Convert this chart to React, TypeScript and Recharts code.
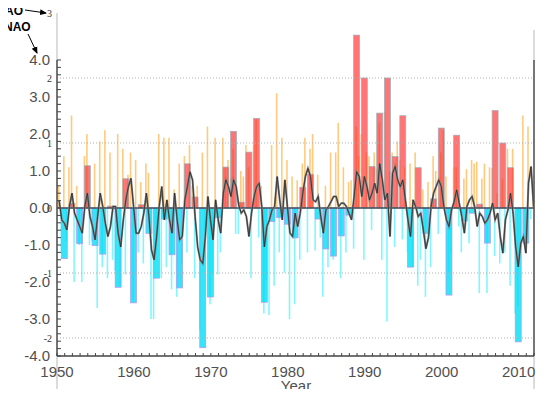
import React from "react";
import { ComposedChart, Bar, Line, XAxis, YAxis, ReferenceLine, Cell } from "recharts";

// Winter AO (wide bars, small AO scale) and monthly NAO (thin bars, big NAO scale),
// plus a smoothed NAO curve.

const years = Array.from({ length: 63 }, (_, i) => 1950 + i);

// winter AO index, one per year (null = no bar)
const aoWinter = [
  null, -0.78, 0.07, -0.55, 0.65, -0.58, -0.71, 0.03, -1.22, 0.45,
  -1.46, 0.05, -0.39, -1.08, -0.17, -0.72, -1.23, 0.68, 0.17, -2.15,
  -1.37, -0.15, 0.63, 1.18, 0.09, 0.86, 1.38, -1.45, -0.21, -0.15,
  -0.25, -0.46, 0.32, 0.52, -0.17, -0.63, -0.74, -0.43, -0.11, 2.66,
  2.0, 0.64, 1.46, 2.0, 0.79, 1.42, -0.91, 0.62, -0.39, 0.14,
  1.23, -1.34, 1.12, -0.2, -0.08, 0.06, -0.54, 1.5, 1.0, 0.62,
  -2.06, -0.54, null,
];

// monthly NAO, three winter months per year
const naoMonths: (number | null)[][] = [
  [null, null, 0.6], [-1.2, 1.4, -0.9], [1.1, 2.5, -2.0], [0.6, -1.0, -2.0], [1.4, 2.0, -1.0],
  [-0.9, 1.2, -2.7], [1.8, -1.6, 2.1], [-1.9, 1.5, -1.4], [-1.7, 2.0, -2.1], [1.6, -1.8, 0.9],
  [1.5, -2.5, 1.3], [-1.2, 0.7, -1.5], [1.2, 0.95, -3.0], [-3.0, -1.2, 2.0], [-1.9, 1.9, -1.6],
  [1.9, -2.2, 0.5], [-2.4, 1.2, -1.5], [1.4, -1.2, 1.7], [0.6, -1.9, 0.6], [-3.3, 1.5, -1.4],
  [2.2, -2.6, -1.8], [1.9, -1.8, -1.2], [1.9, 1.1, 1.3], [0.8, 1.6, -0.7], [-0.7, 1.0, 0.85],
  [1.7, 1.1, -1.9], [1.7, 2.4, -0.8], [0.6, -2.85, -1.95], [-2.9, 1.7, -2.1], [3.1, -1.2, 1.9],
  [-1.75, 1.3, -3.0], [0.85, -2.6, 0.75], [-1.4, 1.2, 1.9], [-1.2, 1.6, 2.0], [-1.15, 0.9, -0.8],
  [-2.4, 0.6, -1.6], [1.5, -1.4, 1.5], [2.3, -1.9, 1.1], [-1.2, 0.7, 0.75], [-1.1, 2.2, 1.4],
  [2.0, -1.4, 1.5], [1.4, -0.6, 1.5], [1.07, 2.3, -1.4], [2.6, -3.07, 1.0], [1.5, -1.05, 1.8],
  [1.3, -0.85, 1.1], [-1.2, 1.2, -1.6], [1.5, -2.1, -1.4], [0.5, -2.4, 0.7], [-1.6, 1.4, 1.0],
  [-0.7, 1.5, 2.1], [0.85, -1.75, -1.2], [1.1, 1.1, -0.5], [-1.2, 0.8, 1.05], [-0.95, 1.3, 1.2],
  [1.25, -2.3, 0.8], [1.2, -2.3, 1.1], [1.08, -1.3, 0.4], [-1.5, 0.78, -1.2], [1.6, -2.1, 1.6],
  [-2.85, -2.65, -1.0], [2.5, -1.2, 2.2], [-0.3, 0.3, null],
];

// smoothed NAO curve, same three points per year
const naoSmooth: (number | null)[][] = [
  [null, null, 0.2], [-0.32, -0.41, -0.59], [0.04, 0.4, -0.14], [-0.32, -0.5, -0.68], [0.04, 0.4, -0.23],
  [-0.5, -0.86, -0.23], [0.4, 0.04, -0.41], [-0.77, -0.5, 0.04], [0.04, -0.68, -1.05], [-0.32, 0.22, 0.58],
  [0.8, 0.04, -0.68], [-0.68, -0.5, -0.14], [0.4, -0.23, -1.13], [-1.4, -0.77, 0.04], [0.58, -0.32, 0.22],
  [-0.32, -0.68, 0.4], [-0.32, -0.86, -0.77], [0.22, 0.58, 0.98], [0.76, -0.23, -1.05], [-1.4, -1.5, -0.77],
  [0.31, -0.32, -0.86], [0.22, -0.32, -0.68], [0.4, 0.76, 0.58], [0.31, 0.76, 0.58], [0.08, -0.14, -0.05],
  [-0.23, -0.77, -0.14], [0.31, 0.58, 0.67], [0.04, -1.05, -0.5], [-0.32, -0.05, 0.04], [0.85, 0.22, -0.32],
  [0.76, 0.04, -0.68], [-0.77, -0.14, -0.5], [-0.14, 0.4, 0.85], [1.07, 0.85, 0.22], [0.17, 0.31, -0.23],
  [-0.68, -0.05, 0.04], [0.17, 0.31, 0.31], [0.04, 0.13, 0.13], [0.04, -0.14, -0.32], [0.31, 0.98, 0.85],
  [0.31, 0.85, 0.58], [0.22, 0.4, 0.67], [0.4, 1.2, 0.76], [0.22, 0.4, -0.77], [0.94, 1.12, 0.76],
  [0.58, 0.76, 0.22], [-0.32, -0.77, 0.22], [0.04, -0.23, -0.14], [-0.59, -1.1, -0.8], [0.04, 0.4, 0.58],
  [0.76, 0.58, 0.04], [-0.32, -0.5, -0.05], [0.17, 0.49, 0.13], [-0.23, -0.68, 0.04], [0.22, 0.31, 0.04],
  [-0.5, -0.14, -0.23], [-0.41, -0.32, -0.14], [0.13, -0.32, -0.14], [-0.77, -1.22, -0.32], [-0.05, 0.4, -0.14],
  [-1.05, -1.59, -0.95], [-0.77, -1.22, 0.67], [1.12, 0.04, null],
];

const decadeTicks = [1950, 1960, 1970, 1980, 1990, 2000, 2010];
const naoTicks = [-4, -3, -2, -1, 0, 1, 2, 3, 4];
const aoGrid = [2, 1, -1, -2];

// layout
const PLOT_LEFT = 57;
const PLOT_BOTTOM = 356;
const WIDE_BAR = 6;
const MONTH_OFFSETS = [-1 / 3, 0, 1 / 3];
const YEAR_SHIFT = -0.05;

const rows: { x: number; nao: number | null; line: number | null; ao: number | null }[] = [];
years.forEach((year, i) => {
  MONTH_OFFSETS.forEach((off, j) => {
    const nao = naoMonths[i][j];
    const line = naoSmooth[i][j];
    if (nao == null && line == null) return;
    rows.push({ x: year + YEAR_SHIFT + off, nao, line, ao: j === 1 ? aoWinter[i] : null });
  });
});

const minorYears = Array.from({ length: 63 }, (_, i) => 1950 + i);
const naoMinor = Array.from({ length: 41 }, (_, i) => Math.round((-4 + i * 0.2) * 10) / 10);

const SANS = "'Liberation Sans', Arial, Helvetica, sans-serif";
const SERIF = "'Liberation Serif', 'Times New Roman', serif";

const YearTick = (props: any) => {
  const { x, payload } = props;
  const year = payload.value;
  return (
    <g>
      <line x1={x} x2={x} y1={PLOT_BOTTOM} y2={PLOT_BOTTOM - 3} stroke="#444" strokeWidth={1} />
      {decadeTicks.includes(year) && (
        <text x={x} y={PLOT_BOTTOM + 21} textAnchor="middle" fontSize={15} fill="#505050" fontFamily={SANS}>
          {year}
        </text>
      )}
    </g>
  );
};

const NaoTick = (props: any) => {
  const { y, payload } = props;
  const v = payload.value;
  return (
    <g>
      <line x1={PLOT_LEFT} x2={PLOT_LEFT + 4} y1={y} y2={y} stroke="#444" strokeWidth={1} />
      {naoTicks.includes(v) && (
        <text x={PLOT_LEFT - 7} y={y} dy="0.36em" textAnchor="end" fontSize={15} fill="#505050" fontFamily={SANS}>
          {v.toFixed(1)}
        </text>
      )}
    </g>
  );
};

// wide AO bar: keep the library's position and height, but a fixed width
const AoBar = (props: any) => {
  const { x, y, width, height, payload } = props;
  const v = payload?.ao;
  if (v == null || !Number.isFinite(y) || !Number.isFinite(height)) return <g />;
  const cx = x + width / 2;
  const top = Math.min(y, y + height);
  const h = Math.abs(height);
  const pos = v >= 0;
  return (
    <rect
      x={cx - WIDE_BAR / 2}
      y={top}
      width={WIDE_BAR}
      height={h}
      fill={pos ? "#ff2a2a" : "#00dff5"}
      fillOpacity={pos ? 0.65 : 0.8}
      stroke={pos ? "#9ab0bc" : "#bb95f2"}
      strokeWidth={0.7}
    />
  );
};

const aoLabel = (v: number) => ({
  value: String(v),
  position: "left" as const,
  offset: 5,
  fontSize: 10,
  fill: "#333",
  fontFamily: SERIF,
});

export default function App() {
  return (
    <div style={{ position: "relative", width: 550, height: 397, margin: -8 }}>
      <svg width={550} height={397} style={{ position: "absolute", left: 0, top: 0 }}>
        <defs>
          <marker id="arrowHead" markerWidth="7" markerHeight="7" refX="6" refY="3.5" orient="auto">
            <path d="M0,0.5 L7,3.5 L0,6.5 z" fill="#000" />
          </marker>
        </defs>
        <line x1={PLOT_LEFT} x2={PLOT_LEFT} y1={13} y2={397} stroke="#c4c4c4" strokeWidth={1.2} />
        <line x1={534} x2={534} y1={30} y2={397} stroke="#c4c4c4" strokeWidth={1.2} />
        <text x={5} y={15} fontSize={12} fontWeight="bold" fontFamily={SANS} fill="#000">AO</text>
        <line x1={25} y1={10} x2={46} y2={13} stroke="#000" strokeWidth={1} markerEnd="url(#arrowHead)" />
        <text x={4} y={31} fontSize={12} fontWeight="bold" fontFamily={SANS} fill="#000">NAO</text>
        <line x1={28} y1={34} x2={37} y2={53} stroke="#000" strokeWidth={1} markerEnd="url(#arrowHead)" />
        <text x={296} y={391} textAnchor="middle" fontSize={15} fill="#505050" fontFamily={SANS}>Year</text>
      </svg>
      <div style={{ position: "absolute", left: 0, top: 0 }}>
        <ComposedChart width={550} height={397} data={rows} margin={{ top: 13, right: 16, bottom: 0, left: 0 }}>
          <XAxis
            xAxisId="main"
            type="number"
            dataKey="x"
            domain={[1950, 2012]}
            ticks={minorYears}
            interval={0}
            allowDataOverflow
            tick={YearTick}
            tickLine={false}
            axisLine={{ stroke: "#444", strokeWidth: 1.5 }}
            height={41}
          />
          <XAxis
            xAxisId="wide"
            type="number"
            dataKey="x"
            domain={[1950, 2012]}
            ticks={minorYears}
            allowDataOverflow
            hide
          />
          <YAxis
            yAxisId="nao"
            type="number"
            domain={[-4, 5.27]}
            ticks={naoMinor}
            interval={0}
            allowDataOverflow
            width={57}
            tick={NaoTick}
            tickLine={false}
            axisLine={false}
          />
          <YAxis yAxisId="ao" type="number" domain={[-2.277, 3]} allowDataOverflow hide />

          {aoGrid.map((v) => (
            <ReferenceLine
              key={v}
              xAxisId="main"
              yAxisId="ao"
              y={v}
              stroke="#b0b0b0"
              strokeDasharray="1 2"
              label={aoLabel(v)}
            />
          ))}
          <ReferenceLine xAxisId="main" yAxisId="ao" y={3} stroke="none" label={aoLabel(3)} />

          <Bar xAxisId="main" yAxisId="nao" dataKey="nao" barSize={1.6} isAnimationActive={false}>
            {rows.map((r, i) => (
              <Cell
                key={i}
                fill={(r.nao ?? 0) >= 0 ? "#ffa726" : "#2ef0ff"}
                fillOpacity={0.6}
              />
            ))}
          </Bar>
          <Bar xAxisId="wide" yAxisId="ao" dataKey="ao" shape={AoBar} isAnimationActive={false} />

          <ReferenceLine
            xAxisId="main"
            yAxisId="ao"
            y={0}
            stroke="#3e4c5a"
            strokeWidth={1.6}
            label={aoLabel(0)}
          />
          <Line
            xAxisId="main"
            yAxisId="nao"
            dataKey="line"
            stroke="#808080"
            strokeWidth={2}
            dot={false}
            isAnimationActive={false}
            connectNulls
          />
          <Line
            xAxisId="main"
            yAxisId="nao"
            dataKey="line"
            stroke="#262626"
            strokeWidth={0.9}
            strokeOpacity={0.85}
            dot={false}
            isAnimationActive={false}
            connectNulls
          />
          <ReferenceLine
            xAxisId="main"
            yAxisId="nao"
            segment={[{ x: 1950, y: -4 }, { x: 1950, y: 4 }]}
            stroke="#555"
            strokeWidth={1.5}
          />
          <ReferenceLine
            xAxisId="main"
            yAxisId="nao"
            segment={[{ x: 2012, y: -4 }, { x: 2012, y: 4 }]}
            stroke="#555"
            strokeWidth={1.5}
          />
        </ComposedChart>
      </div>
    </div>
  );
}
